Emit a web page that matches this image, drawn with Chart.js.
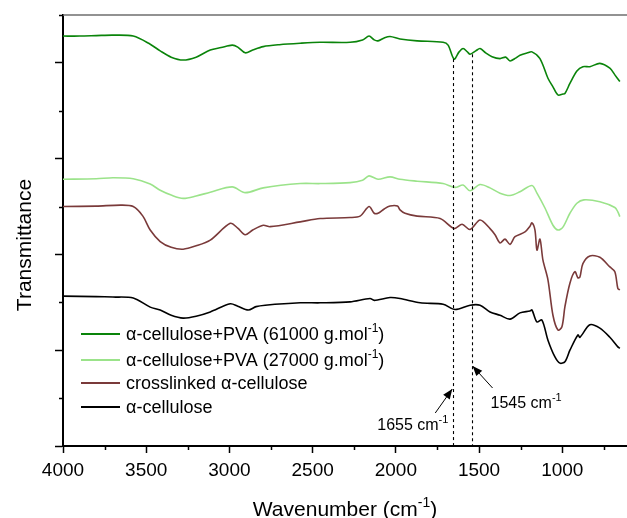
<!DOCTYPE html>
<html>
<head>
<meta charset="utf-8">
<script src="https://cdn.jsdelivr.net/npm/chart.js@4"></script>
<style>
html,body{margin:0;padding:0;background:#fff;}
#wrap{width:627px;height:518px;}
</style>
</head>
<body>
<div id="wrap"><canvas id="c" width="627" height="518"></canvas></div>
<script>
// ---------- data (wavenumber in cm-1, transmittance in arbitrary offset units) ----------
const pva61Wn = [4000,3900,3800,3700,3578,3476,3416,3350,3278,3200,3115,3050,2983,2950,2905,2860,2797,2700,2575,2455,2275,2200,2161,2130,2107,2070,2035,1975,1872,1716,1686,1650,1620,1596,1570,1554,1520,1494,1460,1422,1374,1340,1314,1280,1254,1210,1182,1134,1086,1056,1026,996,984,954,912,876,834,774,714,684,654];
const pva61T  = [8.56,8.56,8.57,8.58,8.56,8.39,8.25,8.12,8.06,8.12,8.27,8.32,8.37,8.33,8.21,8.27,8.34,8.38,8.41,8.43,8.43,8.48,8.56,8.48,8.46,8.52,8.55,8.50,8.46,8.43,8.37,8.08,8.23,8.30,8.23,8.18,8.25,8.30,8.21,8.13,8.09,8.12,8.04,8.10,8.16,8.21,8.23,8.09,7.68,7.50,7.33,7.35,7.36,7.57,7.83,7.92,7.92,7.99,7.89,7.75,7.61];

const pva27Wn = [4000,3800,3700,3578,3476,3416,3350,3278,3200,3115,2983,2905,2797,2575,2455,2275,2200,2161,2107,2035,1975,1872,1716,1644,1596,1554,1494,1434,1374,1314,1254,1182,1152,1104,1056,1026,996,954,912,870,774,684,666,654];
const pva27T  = [5.57,5.58,5.60,5.58,5.47,5.34,5.24,5.17,5.22,5.30,5.41,5.29,5.39,5.48,5.48,5.50,5.55,5.64,5.57,5.62,5.57,5.53,5.48,5.40,5.45,5.33,5.46,5.39,5.28,5.23,5.31,5.44,5.28,4.97,4.61,4.51,4.57,4.86,5.07,5.14,5.10,4.98,4.89,4.79];

const crossWn = [4000,3800,3650,3578,3520,3476,3416,3350,3278,3200,3115,2995,2950,2905,2860,2797,2755,2575,2455,2275,2215,2161,2130,2107,2070,2035,1990,1975,1945,1872,1734,1650,1602,1554,1494,1434,1404,1374,1344,1314,1284,1224,1194,1182,1164,1152,1134,1116,1086,1056,1026,1002,984,954,924,906,894,876,834,774,714,684,666,654];
const crossT  = [5.00,5.01,5.03,5.00,4.80,4.51,4.27,4.15,4.11,4.18,4.30,4.65,4.55,4.41,4.51,4.61,4.58,4.68,4.75,4.77,4.80,5.00,4.86,4.86,4.95,5.01,5.01,4.93,4.86,4.80,4.75,4.54,4.63,4.52,4.72,4.54,4.41,4.24,4.32,4.21,4.37,4.47,4.59,4.66,4.51,4.09,4.32,3.88,3.47,2.73,2.42,2.49,2.91,3.40,3.64,3.51,3.53,3.81,3.97,3.94,3.74,3.64,3.29,3.26];

const celluWn = [4000,3800,3700,3578,3476,3416,3350,3278,3200,3115,2995,2950,2887,2840,2785,2575,2455,2275,2155,2130,2035,1975,1854,1716,1644,1554,1494,1434,1374,1314,1254,1194,1182,1152,1122,1086,1044,1014,984,954,906,894,834,774,714,666,654];
const celluT  = [3.13,3.12,3.11,3.09,2.90,2.84,2.73,2.67,2.71,2.80,2.97,2.92,2.84,2.91,2.94,2.99,2.99,3.01,3.08,3.04,3.10,3.08,2.99,2.96,2.85,2.94,2.94,2.80,2.73,2.65,2.78,2.82,2.84,2.59,2.63,2.21,1.86,1.73,1.76,2.00,2.32,2.27,2.53,2.46,2.27,2.07,2.04];

const seriesLabels = [
  [{t:'\u03b1-cellulose+PVA (61000 g.mol'},{t:'-1',sup:true},{t:')'}],
  [{t:'\u03b1-cellulose+PVA (27000 g.mol'},{t:'-1',sup:true},{t:')'}],
  [{t:'crosslinked \u03b1-cellulose'}],
  [{t:'\u03b1-cellulose'}]
];
const seriesNames = ['\u03b1-cellulose+PVA (61000 g.mol-1)','\u03b1-cellulose+PVA (27000 g.mol-1)','crosslinked \u03b1-cellulose','\u03b1-cellulose'];
const seriesColors = ['#0a840a','#9be38a','#7a3a3a','#000000'];

const xMajorTicks = [4000,3500,3000,2500,2000,1500,1000];
const xMinorTicks = [3750,3250,2750,2250,1750,1250,750];
const yMajorTicks = [0,2,4,6,8];
const yMinorTicks = [1,3,5,7,9];

const markBands = [1655,1545];          // dashed marker wavenumbers
const markLabels = ['1655 cm','1545 cm'];

const xTitle = [{t:'Wavenumber (cm'},{t:'-1',sup:true},{t:')'}];
const yTitle = 'Transmittance';

// ---------- helpers ----------
const FONT = '"Liberation Sans", Arial, Helvetica, sans-serif';
function zip(a,b){ return a.map((v,i)=>({x:v,y:b[i]})); }
function richWidth(ctx, parts, size){
  let w=0;
  parts.forEach(p=>{ ctx.font = (p.sup? Math.round(size*0.68): size)+'px '+FONT; w += ctx.measureText(p.t).width; });
  return w;
}
function drawRich(ctx, parts, x, y, size, align){
  const w = richWidth(ctx, parts, size);
  let cx = align==='center' ? x - w/2 : (align==='right' ? x - w : x);
  ctx.textAlign='left'; ctx.textBaseline='alphabetic';
  parts.forEach(p=>{
    const s = p.sup? Math.round(size*0.68): size;
    ctx.font = s+'px '+FONT;
    ctx.fillText(p.t, cx, p.sup ? y - size*0.42 : y);
    cx += ctx.measureText(p.t).width;
  });
}
function arrow(ctx, x1,y1,x2,y2){
  ctx.beginPath(); ctx.moveTo(x1,y1); ctx.lineTo(x2,y2); ctx.stroke();
  const a = Math.atan2(y2-y1,x2-x1), L=10, W=4;
  ctx.beginPath();
  ctx.moveTo(x2,y2);
  ctx.lineTo(x2 - L*Math.cos(a) + W*Math.sin(a), y2 - L*Math.sin(a) - W*Math.cos(a));
  ctx.lineTo(x2 - L*Math.cos(a) - W*Math.sin(a), y2 - L*Math.sin(a) + W*Math.cos(a));
  ctx.closePath(); ctx.fill();
}

const deco = {
  id:'deco',
  afterDraw(chart){
    const {ctx, chartArea:ca, scales:{x,y}} = chart;
    ctx.save();
    // top frame
    ctx.strokeStyle='#6e6e6e'; ctx.lineWidth=1.5;
    ctx.beginPath(); ctx.moveTo(ca.left, ca.top); ctx.lineTo(ca.right, ca.top); ctx.stroke();
    // minor ticks
    ctx.strokeStyle='#000'; ctx.lineWidth=1.5;
    xMinorTicks.forEach(v=>{ const px=Math.round(x.getPixelForValue(v))+0.5; ctx.beginPath(); ctx.moveTo(px, ca.bottom); ctx.lineTo(px, ca.bottom+4); ctx.stroke(); });
    yMinorTicks.forEach(v=>{ const py=Math.round(y.getPixelForValue(v))+0.5; ctx.beginPath(); ctx.moveTo(ca.left, py); ctx.lineTo(ca.left-4, py); ctx.stroke(); });
    // dashed markers: from the top spectrum down to the axis
    ctx.setLineDash([3,3]); ctx.lineWidth=1.1; ctx.strokeStyle='#000';
    const tops = [8.08, 8.18];
    markBands.forEach((w,i)=>{
      const px = Math.round(x.getPixelForValue(w))+0.5;
      ctx.beginPath(); ctx.moveTo(px, y.getPixelForValue(tops[i])); ctx.lineTo(px, ca.bottom); ctx.stroke();
    });
    ctx.setLineDash([]);
    // arrows + labels
    ctx.fillStyle='#000'; ctx.strokeStyle='#000'; ctx.lineWidth=1;
    const p1 = x.getPixelForValue(markBands[0]);
    const p2 = x.getPixelForValue(markBands[1]);
    arrow(ctx, p1-18, 413, p1-1, 389);
    arrow(ctx, p2+21, 388, p2+1, 366);
    drawRich(ctx, [{t:markLabels[0]},{t:'-1',sup:true}], p1-76, 430, 16, 'left');
    drawRich(ctx, [{t:markLabels[1]},{t:'-1',sup:true}], p2+19, 408, 16, 'left');
    // legend
    const legY = [334, 360, 383, 407];
    chart.data.datasets.forEach((ds,i)=>{
      ctx.strokeStyle = ds.borderColor; ctx.lineWidth=2;
      ctx.beginPath(); ctx.moveTo(81, legY[i]); ctx.lineTo(120, legY[i]); ctx.stroke();
      ctx.fillStyle='#000';
      drawRich(ctx, seriesLabels[i], 126, legY[i]+6, 18, 'left');
    });
    // axis titles
    ctx.fillStyle='#000';
    drawRich(ctx, xTitle, (ca.left+ca.right)/2, 516, 21, 'center');
    ctx.translate(31, 245); ctx.rotate(-Math.PI/2);
    ctx.font='21px '+FONT; ctx.textAlign='center'; ctx.textBaseline='alphabetic';
    ctx.fillText(yTitle, 0, 0);
    ctx.restore();
  }
};

new Chart(document.getElementById('c'), {
  type:'line',
  data:{
    datasets:[
      {label:seriesNames[0], data:zip(pva61Wn,pva61T), borderColor:seriesColors[0]},
      {label:seriesNames[1], data:zip(pva27Wn,pva27T), borderColor:seriesColors[1]},
      {label:seriesNames[2], data:zip(crossWn,crossT), borderColor:seriesColors[2]},
      {label:seriesNames[3], data:zip(celluWn,celluT), borderColor:seriesColors[3]}
    ]
  },
  options:{
    responsive:false, animation:false, devicePixelRatio:1,
    layout:{padding:{top:15,right:0,left:0,bottom:0}},
    elements:{point:{radius:0}, line:{borderWidth:1.6, tension:0.3, fill:false}},
    plugins:{legend:{display:false}, tooltip:{enabled:false}},
    scales:{
      x:{
        type:'linear', reverse:true, min:611, max:4000,
        afterBuildTicks(s){ s.ticks = xMajorTicks.map(v=>({value:v})); },
        afterFit(s){ s.height = 72; },
        border:{display:true, color:'#000', width:2},
        grid:{display:true, drawOnChartArea:false, drawTicks:true, tickLength:7, tickColor:'#000', tickWidth:1.5},
        ticks:{color:'#000', font:{family:FONT, size:19}, padding:6, maxRotation:0, autoSkip:false, callback:(v)=>String(v)},
        title:{display:false}
      },
      y:{
        type:'linear', min:0, max:9,
        afterBuildTicks(s){ s.ticks = yMajorTicks.map(v=>({value:v})); },
        afterFit(s){ s.width = 63; },
        border:{display:true, color:'#000', width:2},
        grid:{display:true, drawOnChartArea:false, drawTicks:true, tickLength:8, tickColor:'#000', tickWidth:1.5},
        ticks:{callback:()=>'', display:true},
        title:{display:false}
      }
    }
  },
  plugins:[deco]
});
</script>
</body>
</html>
